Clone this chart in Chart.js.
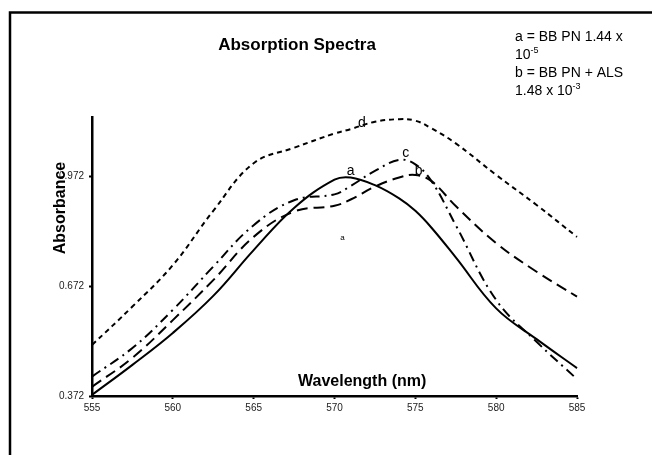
<!DOCTYPE html>
<html>
<head>
<meta charset="utf-8">
<script src="https://cdn.jsdelivr.net/npm/chart.js@4.4.1/dist/chart.umd.min.js"></script>
<style>
  html, body { margin: 0; padding: 0; background: #fff; }
  #wrap { width: 652px; height: 455px; position: relative; }
</style>
</head>
<body>
<div id="wrap"><canvas id="c" width="652" height="455"></canvas></div>
<script>
const wavelengths = [555, 557.5, 560, 562.5, 565, 567.5, 570, 571, 572.5, 574, 575, 576, 577.5, 580, 582.5, 585];
const seriesA = [0.375, 0.457, 0.544, 0.645, 0.770, 0.885, 0.962, 0.968, 0.947, 0.911, 0.877, 0.831, 0.750, 0.611, 0.527, 0.448];
const seriesB = [0.397, 0.476, 0.579, 0.688, 0.806, 0.875, 0.891, 0.908, 0.943, 0.968, 0.975, 0.958, 0.890, 0.789, 0.711, 0.643];
const seriesC = [0.425, 0.503, 0.607, 0.725, 0.838, 0.906, 0.922, 0.945, 0.986, 1.016, 1.004, 0.958, 0.838, 0.634, 0.520, 0.418];
const seriesD = [0.511, 0.616, 0.729, 0.877, 1.007, 1.049, 1.088, 1.100, 1.120, 1.127, 1.123, 1.102, 1.061, 0.975, 0.893, 0.806];
const yTickValues = [0.372, 0.672, 0.972];
const xTickValues = [555, 560, 565, 570, 575, 580, 585];
const curveLabels = [
  { text: 'a', x: 571.0, y: 0.986 },
  { text: 'b', x: 575.2, y: 0.986 },
  { text: 'c', x: 574.4, y: 1.035 },
  { text: 'd', x: 571.7, y: 1.116 }
];
const smallLabel = { text: 'a', x: 570.5, y: 0.804 };
const titleText = 'Absorption Spectra';
const xTitle = 'Wavelength (nm)';
const yTitle = 'Absorbance';

const FONT = '"Liberation Sans", Arial, sans-serif';

function pts(vals) { return wavelengths.map((w, i) => ({ x: w, y: vals[i] })); }

const base = { pointRadius: 0, borderColor: '#000', borderWidth: 2, fill: false, tension: 0.4, clip: false };

const textPlugin = {
  id: 'texts',
  beforeDraw(chart) {
    const ctx = chart.ctx;
    ctx.save();
    ctx.fillStyle = '#fff';
    ctx.fillRect(0, 0, chart.width, chart.height);
    ctx.restore();
  },
  afterDraw(chart) {
    const ctx = chart.ctx;
    const xs = chart.scales.x, ys = chart.scales.y;
    ctx.save();
    ctx.strokeStyle = '#000';
    ctx.lineWidth = 2.5;
    ctx.beginPath();
    ctx.moveTo(10, 455);
    ctx.lineTo(10, 12.5);
    ctx.lineTo(652, 12.5);
    ctx.stroke();

    ctx.fillStyle = '#000';
    ctx.font = 'bold 17px ' + FONT;
    ctx.textAlign = 'center';
    ctx.textBaseline = 'alphabetic';
    ctx.fillText(titleText, 297, 50);

    ctx.textAlign = 'left';
    ctx.font = '14px ' + FONT;
    ctx.fillText('a = BB PN 1.44 x', 515, 41);
    ctx.fillText('10', 515, 59);
    let w10 = ctx.measureText('10').width;
    ctx.font = '9px ' + FONT;
    ctx.fillText('-5', 515 + w10, 53);
    ctx.font = '14px ' + FONT;
    ctx.fillText('b = BB PN + ALS', 515, 77);
    const l4 = '1.48 x 10';
    ctx.fillText(l4, 515, 95);
    let w4 = ctx.measureText(l4).width;
    ctx.font = '9px ' + FONT;
    ctx.fillText('-3', 515 + w4, 89);

    ctx.font = 'bold 16px ' + FONT;
    ctx.textAlign = 'left';
    ctx.fillText(xTitle, 298, 386);
    ctx.save();
    ctx.translate(65, 208);
    ctx.rotate(-Math.PI / 2);
    ctx.textAlign = 'center';
    ctx.textBaseline = 'alphabetic';
    ctx.fillText(yTitle, 0, 0);
    ctx.restore();

    ctx.font = '14px ' + FONT;
    ctx.textAlign = 'center';
    ctx.textBaseline = 'middle';
    curveLabels.forEach(l => {
      ctx.fillText(l.text, xs.getPixelForValue(l.x), ys.getPixelForValue(l.y));
    });
    ctx.font = '8px ' + FONT;
    ctx.fillText(smallLabel.text, xs.getPixelForValue(smallLabel.x), ys.getPixelForValue(smallLabel.y));
    ctx.restore();
  }
};

new Chart(document.getElementById('c'), {
  type: 'line',
  data: {
    datasets: [
      Object.assign({ label: 'a', data: pts(seriesA) }, base),
      Object.assign({ label: 'b', data: pts(seriesB), borderDash: [11, 6] }, base),
      Object.assign({ label: 'c', data: pts(seriesC), borderDash: [10, 5, 2, 5] }, base),
      Object.assign({ label: 'd', data: pts(seriesD), borderDash: [5, 4] }, base)
    ]
  },
  options: {
    responsive: false,
    animation: false,
    devicePixelRatio: 1,
    layout: { padding: { left: 0, top: 117, right: 75, bottom: 0 } },
    plugins: { legend: { display: false }, tooltip: { enabled: false }, title: { display: false } },
    scales: {
      x: {
        type: 'linear',
        min: 555, max: 585,
        afterBuildTicks: s => { s.ticks = xTickValues.map(v => ({ value: v })); },
        afterFit: s => { s.height = 59; },
        ticks: { color: '#222', font: { family: FONT, size: 10 }, padding: 3, maxRotation: 0, autoSkip: false },
        grid: { drawOnChartArea: false, drawTicks: true, tickLength: 3, tickWidth: 2, tickColor: '#000' },
        border: { color: '#000', width: 2.5 }
      },
      y: {
        type: 'linear',
        min: 0.372, max: 1.133,
        afterBuildTicks: s => { s.ticks = yTickValues.map(v => ({ value: v })); },
        afterFit: s => { s.width = 92; },
        ticks: { color: '#222', font: { family: FONT, size: 10 }, padding: 5, callback: v => v.toFixed(3) },
        grid: { drawOnChartArea: false, drawTicks: true, tickLength: 3, tickWidth: 2, tickColor: '#000' },
        border: { color: '#000', width: 2.5 }
      }
    }
  },
  plugins: [textPlugin]
});
</script>
</body>
</html>
